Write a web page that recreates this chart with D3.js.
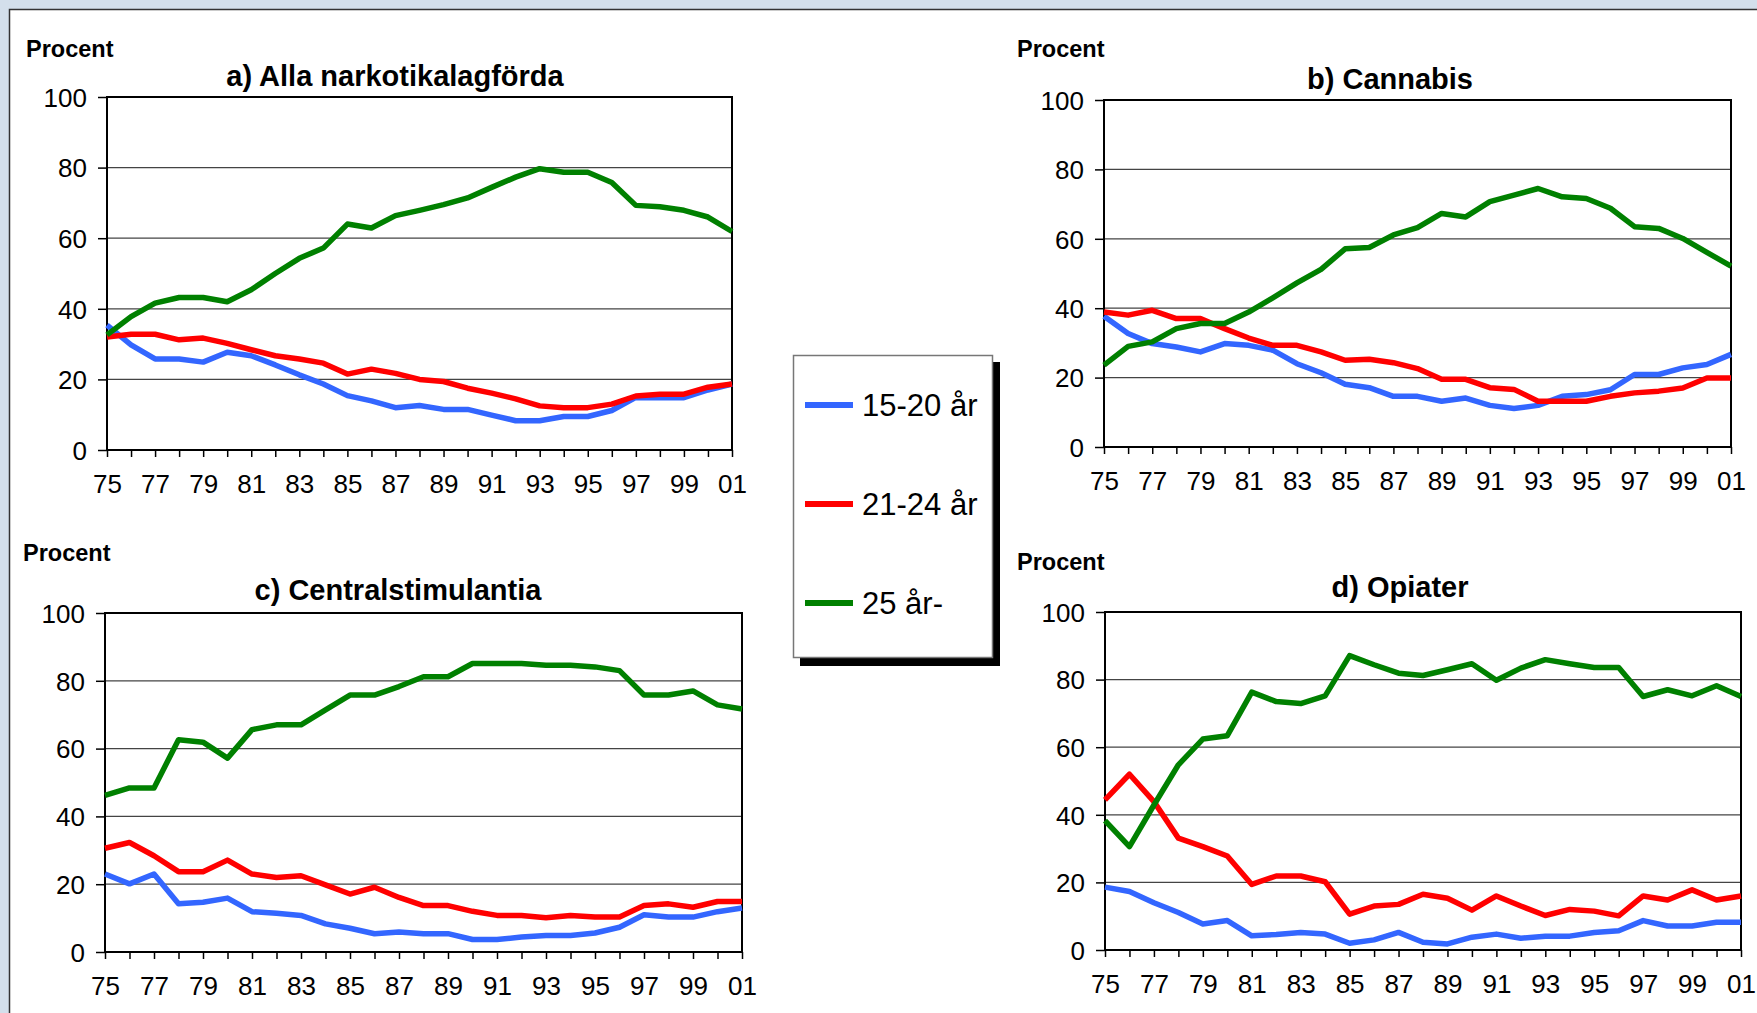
<!DOCTYPE html>
<html>
<head>
<meta charset="utf-8">
<script src="https://cdn.jsdelivr.net/npm/d3@7"></script>
<style>
  body { margin: 0; background: #d3dfeb; }
  svg { display: block; font-family: "Liberation Sans", Arial, sans-serif; }
</style>
</head>
<body>
<svg id="vis" width="1757" height="1013"></svg>
<script>
const years = d3.range(1975, 2002)
const tickYears = d3.range(1975, 2002, 2)
const yTicks = [0, 20, 40, 60, 80, 100]
const groups = ['15-20 år', '21-24 år', '25 år-']
const colors = ['#3366ff', '#ff0000', '#008000']

// a) Alla narkotikalagförda
const allaYoung = [35.4, 29.8, 25.8, 25.8, 24.9, 27.7, 26.7, 24.1, 21.3, 18.7, 15.4, 13.9, 12, 12.6, 11.5, 11.5, 9.9, 8.3, 8.3, 9.5, 9.5, 11.2, 14.9, 14.8, 14.8, 17, 18.7]
const allaMid = [32, 32.8, 32.8, 31.2, 31.7, 30.2, 28.4, 26.7, 25.8, 24.6, 21.5, 22.9, 21.7, 20, 19.4, 17.5, 16.1, 14.5, 12.5, 12, 12, 13, 15.3, 15.8, 15.8, 17.8, 18.7]
const allaOld = [32.6, 37.8, 41.6, 43.2, 43.2, 42, 45.4, 50, 54.3, 57.2, 64, 62.9, 66.4, 67.9, 69.5, 71.4, 74.4, 77.3, 79.7, 78.7, 78.7, 75.8, 69.3, 68.9, 67.9, 66, 61.9]

// b) Cannabis
const cannabisYoung = [37.7, 32.7, 29.8, 28.8, 27.4, 29.8, 29.3, 27.9, 24, 21.4, 18.1, 17.1, 14.6, 14.6, 13.2, 14.1, 12, 11.1, 12, 14.6, 15.1, 16.5, 20.9, 20.9, 22.8, 23.8, 26.7]
const cannabisMid = [38.9, 38, 39.4, 37, 37, 34.1, 31.4, 29.3, 29.3, 27.4, 25, 25.3, 24.3, 22.6, 19.5, 19.5, 17.1, 16.6, 13.2, 13.2, 13.2, 14.6, 15.6, 16.1, 17, 19.9, 19.9]
const cannabisOld = [23.6, 29, 30.3, 34.1, 35.6, 35.6, 38.9, 43, 47.3, 51.2, 57.1, 57.5, 61.1, 63.2, 67.3, 66.3, 70.7, 72.6, 74.5, 72.1, 71.6, 68.8, 63.5, 63, 60.1, 56.1, 52.1]

// c) Centralstimulantia
const centralYoung = [23, 20.1, 23, 14.2, 14.7, 15.9, 11.9, 11.4, 10.8, 8.3, 7, 5.4, 5.9, 5.4, 5.4, 3.7, 3.7, 4.4, 4.9, 4.9, 5.6, 7.3, 11, 10.3, 10.3, 11.9, 13]
const centralMid = [30.6, 32.3, 28.4, 23.7, 23.7, 27.1, 23, 22, 22.5, 19.8, 17.1, 19.1, 16.1, 13.7, 13.7, 12, 10.8, 10.8, 10.1, 10.8, 10.3, 10.3, 13.7, 14.2, 13.2, 14.9, 14.9]
const centralOld = [46.2, 48.4, 48.4, 62.6, 61.9, 57.2, 65.6, 67, 67, 71.4, 75.8, 75.8, 78.3, 81.2, 81.2, 85.1, 85.1, 85.1, 84.6, 84.6, 84.1, 83, 75.8, 75.8, 77, 72.9, 71.7]

// d) Opiater
const opiaterYoung = [18.6, 17.3, 14, 11.1, 7.7, 8.7, 4.2, 4.6, 5.2, 4.7, 2, 3, 5.2, 2.3, 1.8, 3.8, 4.7, 3.5, 4.1, 4.1, 5.2, 5.7, 8.7, 7.1, 7.1, 8.2, 8.2]
const opiaterMid = [44.4, 52, 43.9, 33.1, 30.6, 27.8, 19.4, 21.9, 21.9, 20.2, 10.6, 13, 13.5, 16.5, 15.3, 11.8, 16, 13, 10.2, 12, 11.5, 10.1, 16, 14.8, 17.8, 14.8, 16]
const opiaterOld = [38.3, 30.6, 42.9, 54.8, 62.4, 63.4, 76.3, 73.5, 72.9, 75.2, 87.1, 84.4, 81.9, 81.2, 82.9, 84.7, 79.8, 83.4, 85.9, 84.7, 83.6, 83.6, 75, 77, 75.2, 78.2, 75]

const panels = [
  { title: 'a) Alla narkotikalagförda', series: [allaYoung, allaMid, allaOld],
    box: { x0: 107, x1: 732, y0: 97, y1: 450 }, procent: [26, 57], titleX: 395, titleY: 86 },
  { title: 'b) Cannabis', series: [cannabisYoung, cannabisMid, cannabisOld],
    box: { x0: 1104, x1: 1731, y0: 100, y1: 447 }, procent: [1017, 57], titleX: 1390, titleY: 89 },
  { title: 'c) Centralstimulantia', series: [centralYoung, centralMid, centralOld],
    box: { x0: 105, x1: 742, y0: 613, y1: 952 }, procent: [23, 561], titleX: 398, titleY: 600 },
  { title: 'd) Opiater', series: [opiaterYoung, opiaterMid, opiaterOld],
    box: { x0: 1105, x1: 1741, y0: 612, y1: 950 }, procent: [1017, 570], titleX: 1400, titleY: 597 }
]

const svg = d3.select('#vis')

svg.append('rect')
  .attr('x', 9.5).attr('y', 9.5)
  .attr('width', 1800).attr('height', 1100)
  .attr('fill', '#fff')
  .attr('stroke', '#333')
  .attr('stroke-width', 1.5)

for (const p of panels) {
  const b = p.box
  const x = d3.scaleLinear().domain([1975, 2001]).range([b.x0, b.x1])
  const y = d3.scaleLinear().domain([0, 100]).range([b.y1, b.y0])
  const g = svg.append('g')

  g.append('text')
    .attr('x', p.procent[0]).attr('y', p.procent[1])
    .attr('font-size', 23.5).attr('font-weight', 'bold')
    .text('Procent')

  g.append('text')
    .attr('x', p.titleX).attr('y', p.titleY)
    .attr('text-anchor', 'middle')
    .attr('font-size', 29).attr('font-weight', 'bold')
    .text(p.title)

  // gridlines
  g.selectAll('.grid')
    .data(yTicks.slice(1, -1))
    .enter()
    .append('line')
    .attr('x1', b.x0).attr('x2', b.x1)
    .attr('y1', d => y(d)).attr('y2', d => y(d))
    .attr('stroke', '#444')
    .attr('stroke-width', 1.2)

  g.append('rect')
    .attr('x', b.x0).attr('y', b.y0)
    .attr('width', b.x1 - b.x0).attr('height', b.y1 - b.y0)
    .attr('fill', 'none')
    .attr('stroke', '#000')
    .attr('stroke-width', 2)

  const yAxis = g.append('g')
    .attr('transform', `translate(${b.x0},0)`)
    .call(d3.axisLeft(y).tickValues(yTicks).tickSize(9).tickPadding(11))
  const xAxis = g.append('g')
    .attr('transform', `translate(0,${b.y1})`)
    .call(d3.axisBottom(x).tickValues(years).tickSize(7).tickPadding(18)
      .tickFormat(d => tickYears.includes(d) ? String(d).slice(2) : ''))
  for (const ax of [yAxis, xAxis]) {
    ax.select('.domain').remove()
    ax.selectAll('line').attr('stroke', '#000').attr('stroke-width', 1.5)
    ax.selectAll('text').attr('fill', '#000').attr('font-size', 26).attr('font-family', null)
  }
  yAxis.selectAll('text').attr('dy', '0.36em')

  const line = d3.line()
    .x((d, i) => x(years[i]))
    .y(d => y(d))

  p.series.forEach((s, i) => {
    g.append('path')
      .datum(s)
      .attr('d', line)
      .attr('fill', 'none')
      .attr('stroke', colors[i])
      .attr('stroke-width', 5.5)
      .attr('stroke-linejoin', 'round')
  })
}

// legend
const legend = svg.append('g')
legend.append('rect')
  .attr('x', 800).attr('y', 362)
  .attr('width', 200).attr('height', 304)
  .attr('fill', '#000')
legend.append('rect')
  .attr('x', 793.5).attr('y', 355.5)
  .attr('width', 199).attr('height', 302)
  .attr('fill', '#fff')
  .attr('stroke', '#777')
  .attr('stroke-width', 1.5)
const ly = d3.scalePoint().domain(groups).range([405, 603])
groups.forEach((name, i) => {
  legend.append('line')
    .attr('x1', 805).attr('x2', 853)
    .attr('y1', ly(name)).attr('y2', ly(name))
    .attr('stroke', colors[i])
    .attr('stroke-width', 6)
  legend.append('text')
    .attr('x', 862).attr('y', ly(name))
    .attr('dy', '0.36em')
    .attr('font-size', 31)
    .text(name)
})
</script>
</body>
</html>
